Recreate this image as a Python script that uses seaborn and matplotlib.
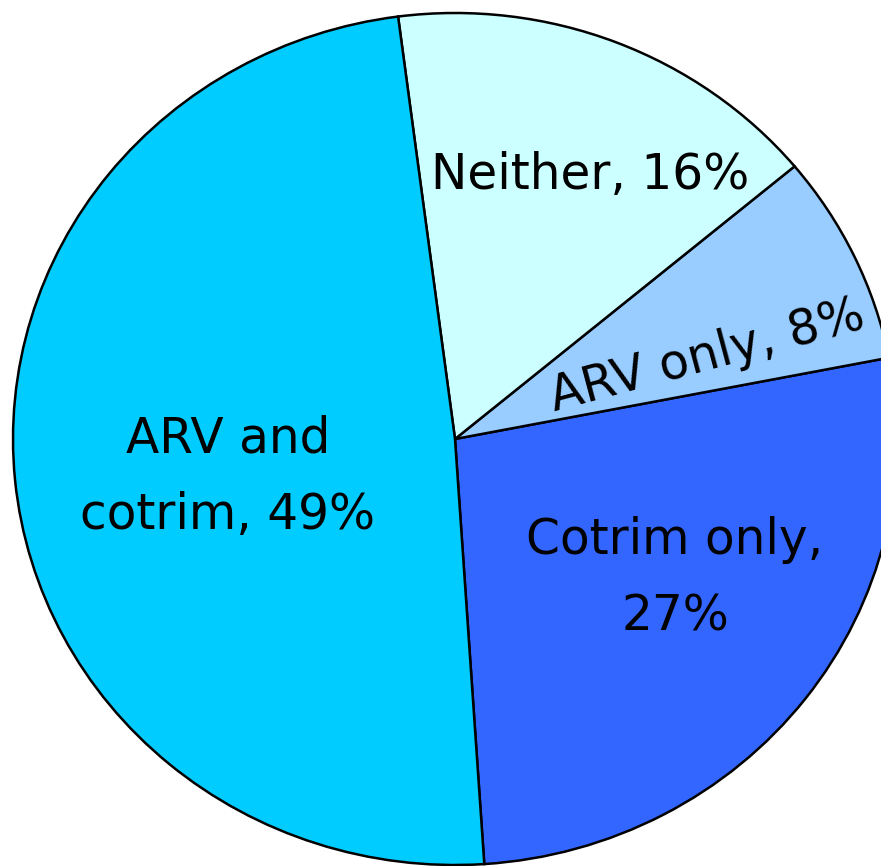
import numpy as np
import matplotlib
matplotlib.use("Agg")
import matplotlib.pyplot as plt
import seaborn as sns

# slices in counter-clockwise order, starting at the bottom
labels = ["Cotrim only,\n27%", "ARV only, 8%", "Neither, 16%", "ARV and\ncotrim, 49%"]
shares = [27, 8, 16, 49]
colors = ["#3366FF", "#99CCFF", "#CCFFFF", "#00CCFF"]

# label centres in image pixels, plus rotation
label_px = [(675, 578, 0), (707, 356, 15), (590, 175, 0), (228, 477, 0)]

sns.set_style("white")
plt.rcParams["font.family"] = ["DejaVu Sans"]

W, H = 881, 866
cx, cy = 455, 439
rx, ry = 442, 426   # the source image is slightly stretched sideways

fig = plt.figure(figsize=(W / 100, H / 100), dpi=100)
ax = fig.add_axes([0, 0, 1, 1])

ax.pie(shares, colors=colors, startangle=-86.2, counterclock=True,
       wedgeprops=dict(edgecolor="black", linewidth=1.8))

for lab, (px, py, rot) in zip(labels, label_px):
    ax.text((px - cx) / rx, (cy - py) / ry, lab, ha="center", va="center",
            fontsize=35, rotation=rot, rotation_mode="anchor",
            linespacing=1.75, color="black")

ax.set_xlim(-cx / rx, (W - cx) / rx)
ax.set_ylim(-(H - cy) / ry, cy / ry)
ax.set_aspect("auto")
ax.axis("off")

fig.savefig("out.png", dpi=100)
